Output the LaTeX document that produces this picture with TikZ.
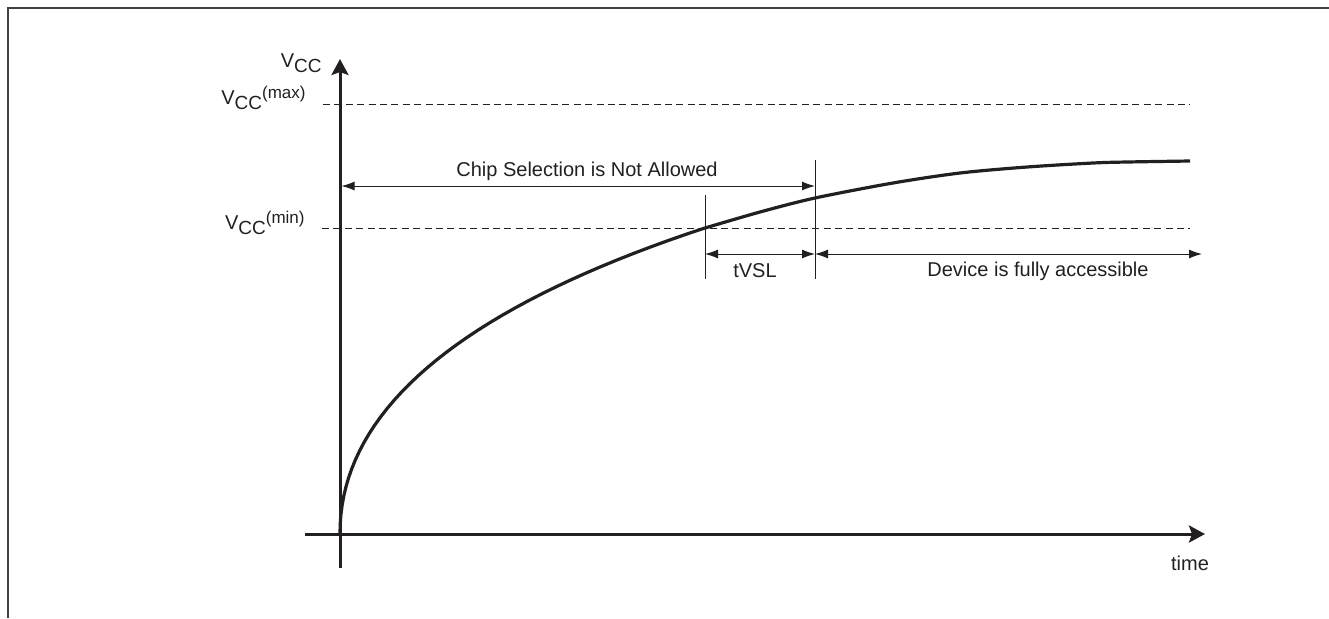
\documentclass[tikz,border=0pt]{standalone}
\usepackage{fontspec}
\setmainfont{Liberation Sans}
\usetikzlibrary{arrows.meta, positioning}
\definecolor{ink}{HTML}{231F20}
\tikzstyle{frame} = [line width=1pt, draw=ink!85]
\tikzstyle{axisline} = [line width=1.5pt, draw=ink, -{Stealth[length=8pt,width=8.5pt,inset=1.5pt]}]
\tikzstyle{level} = [line width=0.5pt, draw=ink, dash pattern=on 3.5pt off 2.2pt]
\tikzstyle{dimarrow} = [line width=0.5pt, draw=ink, {Latex[length=6.5pt,width=4.5pt]}-{Latex[length=6.5pt,width=4.5pt]}]
\tikzstyle{tickline} = [line width=0.5pt, draw=ink]
\tikzstyle{curve} = [line width=1.6pt, draw=ink, line join=round]
\tikzstyle{txt} = [inner sep=0pt, text=ink, font=\fontsize{10}{12}\selectfont]
\newcommand{\vccsub}[1]{V\raisebox{-0.55ex}{\fontsize{9.5}{11}\selectfont CC}\raisebox{0.55ex}{\fontsize{8.5}{10}\selectfont #1}}

\begin{document}
\begin{tikzpicture}[x=0.5pt,y=-0.5pt]
	\useasboundingbox (0,0) rectangle (1329,618);
	
	% Rahmen
	\coordinate (fbl) at (8,618);
	\coordinate (ftl) at (8,8);
	\coordinate (ftr) at (1329,8);
	\draw [frame] (fbl) -- (ftl) -- (ftr);
	
	% Achsen
	\coordinate (ybot) at (340,568);
	\coordinate (ytop) at (340,59);
	\coordinate (xleft) at (305,534);
	\coordinate (xright) at (1205,534);
	\draw [axisline] (ybot) -- (ytop);
	\draw [axisline] (xleft) -- (xright);
	
	% Beschriftung der Achsen
	\node (vcc) [txt, anchor=base east] at (322,67) {\vccsub{}};
	\node (time) [txt] at (1190,563) {time};
	
	% Pegel
	\node (vccmax) [txt, anchor=base east] at (306,104) {\vccsub{(max)}};
	\node (vccmin) [txt, anchor=base east] at (305,229) {\vccsub{(min)}};
	\coordinate (maxl) at (323,104);
	\coordinate (maxr) at (1190,104);
	\coordinate (minl) at (322,228);
	\coordinate (minr) at (1190,228);
	\draw [level] (maxl) -- (maxr);
	\draw [level] (minl) -- (minr);
	
	% Markierungen
	\coordinate (vsltop) at (705,195);
	\coordinate (vslbot) at (705,279);
	\coordinate (acctop) at (815,160);
	\coordinate (accbot) at (815,279);
	\draw [tickline] (vsltop) -- (vslbot);
	\draw [tickline] (acctop) -- (accbot);
	
	% Massepfeile
	\coordinate (chipl) at (341.5,186);
	\coordinate (chipr) at (815,186);
	\coordinate (vsll) at (705,254);
	\coordinate (vslr) at (815,254);
	\coordinate (devr) at (1202,254);
	\draw [dimarrow] (chipl) -- (chipr);
	\draw [dimarrow] (vsll) -- (vslr);
	\draw [dimarrow] (vslr) -- (devr);
	\node (chip) [txt] at (587,171) {Chip Selection is Not Allowed};
	\node (tvsl) [txt] at (755,271) {tVSL};
	\node (dev) [txt] at (1038,271) {Device is fully accessible};
	
	% Anstieg von VCC
	\draw [curve] plot [domain=0:19.105, samples=40, variable=\s] ({340+\s*\s},{533-19.35*\s+0.177*\s*\s})
		-- plot [smooth, tension=0.5] coordinates {(705,228) (760,212) (815,198) (893,183) (960,173) (1027,167) (1093,163) (1127,162) (1190,161)};
	
\end{tikzpicture}
\end{document}
